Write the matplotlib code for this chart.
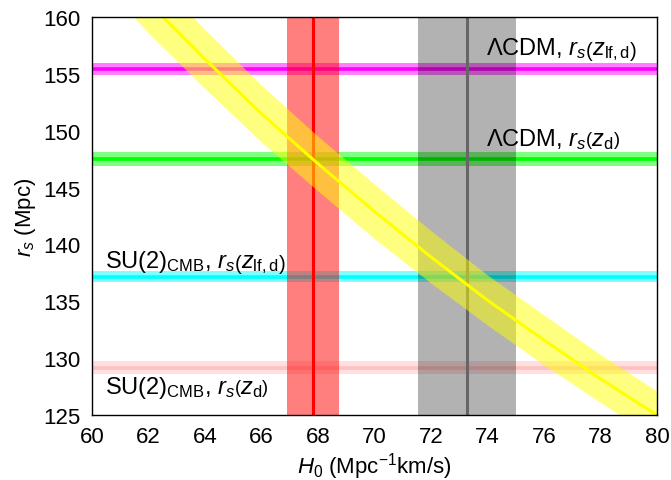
import matplotlib
matplotlib.use("Agg")
import matplotlib.pyplot as plt

plt.rcParams['font.family'] = ['Liberation Sans', 'DejaVu Sans']
plt.rcParams['mathtext.fontset'] = 'custom'
plt.rcParams['mathtext.rm'] = 'Liberation Sans'
plt.rcParams['mathtext.it'] = 'Liberation Sans:italic'
plt.rcParams['mathtext.bf'] = 'Liberation Sans:bold'

# Horizontal bands: r_s values (Mpc) -> (centre, half width)
hband_names = ['LCDM_lf', 'LCDM_d', 'SU2_lf', 'SU2_d']
hband_center = [155.45, 147.55, 137.18, 129.18]
hband_halfw = [0.52, 0.62, 0.48, 0.55]
hband_line_colors = ['#ff00ff', '#00ff00', '#00ffff', '#ffc0c0']
hband_fill_colors = ['#ff00ff', '#00ff00', '#00ffff', '#ffc0c0']

# Vertical bands: H0 values -> (centre, low, high)
vband_center = [67.82, 73.26]
vband_low = [66.92, 71.53]
vband_high = [68.73, 75.0]
vband_line_colors = ['#ff0000', '#666666']
vband_fill_colors = ['#ff0000', '#000000']
vband_fill_alpha = [0.5, 0.3]

# Yellow band
yb_h0 = [60, 62, 64, 66, 68, 70, 72, 74, 76, 78, 80]
yb_center = [166.7, 161.3, 156.3, 151.5, 147.1, 142.9, 138.9, 135.1, 131.6, 128.2, 125.0]
yb_upper = [169.4, 164.0, 158.9, 154.0, 149.5, 145.3, 141.2, 137.3, 133.8, 130.3, 127.1]
yb_lower = [164.0, 158.6, 153.7, 149.0, 144.7, 140.5, 136.6, 132.9, 129.4, 126.1, 122.9]

xticks = [60, 62, 64, 66, 68, 70, 72, 74, 76, 78, 80]
yticks = [125, 130, 135, 140, 145, 150, 155, 160]

fig = plt.figure(figsize=(6.71, 4.81), dpi=100)
ax = fig.add_axes([0.137, 0.135, 0.842, 0.8276])

for c, hw, lc, fc in zip(hband_center, hband_halfw, hband_line_colors, hband_fill_colors):
    ax.axhspan(c - hw, c + hw, color=fc, alpha=0.5, lw=0, zorder=1)
    ax.axhline(c, color=lc, lw=2.6, zorder=2)

for c, lo, hi, lc, fc, fa in zip(vband_center, vband_low, vband_high,
                                 vband_line_colors, vband_fill_colors, vband_fill_alpha):
    ax.axvspan(lo, hi, color=fc, alpha=fa, lw=0, zorder=3)
    ax.axvline(c, color=lc, lw=2.2, zorder=4)

ax.fill_between(yb_h0, yb_lower, yb_upper, color='#ffff00', alpha=0.5, lw=0, zorder=5)
ax.plot(yb_h0, yb_center, color='#ffff00', lw=2.2, zorder=6)

ax.set_xlim(60, 80)
ax.set_ylim(125, 160)
ax.set_xticks(xticks)
ax.set_yticks(yticks)
ax.tick_params(labelsize=16, length=0, pad=8)
for s in ax.spines.values():
    s.set_linewidth(1.0)
    s.set_zorder(10)

fs = 17
ax.text(73.95, 156.75, r'$\Lambda$CDM, $r_s\left(z_{\mathrm{lf,d}}\right)$', ha='left', va='baseline', fontsize=fs, zorder=8)
ax.text(73.95, 148.75, r'$\Lambda$CDM, $r_s\left(z_{\mathrm{d}}\right)$', ha='left', va='baseline', fontsize=fs, zorder=8)
ax.text(60.45, 138.0, r'SU(2)$_{\mathrm{CMB}}$, $r_s\left(z_{\mathrm{lf,d}}\right)$', ha='left', va='baseline', fontsize=fs, zorder=8)
ax.text(60.45, 126.95, r'SU(2)$_{\mathrm{CMB}}$, $r_s\left(z_{\mathrm{d}}\right)$', ha='left', va='baseline', fontsize=fs, zorder=8)

ax.set_xlabel(r'$H_0$ (Mpc$^{-1}$km$/$s)', fontsize=16, labelpad=2)
ax.set_ylabel(r'$r_s$ (Mpc)', fontsize=16, labelpad=4)

fig.savefig('out.png', dpi=100)
